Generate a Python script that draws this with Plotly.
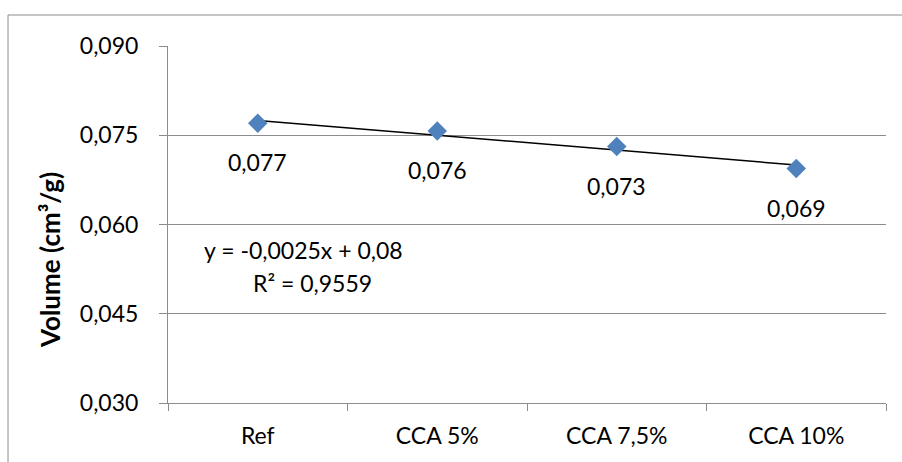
import plotly.graph_objects as go

# Mixtures and measured specific volume (cm³/g)
categories = ["Ref", "CCA 5%", "CCA 7,5%", "CCA 10%"]
volume = [0.0770, 0.0757, 0.0731, 0.0694]

# Linear trend line (x = 1..4 over the mixtures)
trend_slope = -0.0025
trend_intercept = 0.08
trend_r2 = 0.9559

y_ticks = [0.030, 0.045, 0.060, 0.075, 0.090]

FONT = "Lato"
GRID = "#8c8c8c"


def fmt_dec(v, nd):
    return f"{v:.{nd}f}".replace(".", ",")


x_idx = [1, len(categories)]
trend_y = [trend_slope * i + trend_intercept for i in x_idx]

fig = go.Figure()

fig.add_trace(go.Scatter(
    x=[categories[0], categories[-1]], y=trend_y,
    mode="lines", line=dict(color="black", width=1.5),
    hoverinfo="skip", showlegend=False,
))

fig.add_trace(go.Scatter(
    x=categories, y=volume, mode="markers",
    marker=dict(symbol="diamond", size=15, color="#4f81bd",
                line=dict(width=0)),
    showlegend=False,
))

annotations = []
for c, v in zip(categories, volume):
    annotations.append(dict(
        x=c, y=v, xref="x", yref="y", text=fmt_dec(v, 3),
        showarrow=False, yshift=-39, xanchor="center", yanchor="middle",
        font=dict(family=FONT, size=23, color="black"),
    ))

slope_txt = f"{trend_slope:.4f}".replace(".", ",")
icpt_txt = f"{trend_intercept:g}".replace(".", ",")
annotations.append(dict(
    x=0.189, y=0.4286, xref="paper", yref="paper",
    xanchor="center", yanchor="middle",
    text=f"y = {slope_txt}x + {icpt_txt}", showarrow=False,
    font=dict(family=FONT, size=23, color="black"),
))
annotations.append(dict(
    x=0.2006, y=0.336, xref="paper", yref="paper",
    xanchor="center", yanchor="middle",
    text=f"R² = {fmt_dec(trend_r2, 4)}", showarrow=False,
    font=dict(family=FONT, size=23, color="black"),
))
annotations.append(dict(
    x=-0.1643, y=0.4006, xref="paper", yref="paper",
    xanchor="center", yanchor="middle",
    text="<b>Volume (cm³/g)</b>", textangle=-90, showarrow=False,
    font=dict(family=FONT, size=26, color="black"),
))

fig.update_layout(
    width=902, height=462,
    margin=dict(l=168, r=16, t=46, b=59),
    paper_bgcolor="white", plot_bgcolor="white",
    separators=",.",
    font=dict(family=FONT, size=23, color="black"),
    annotations=annotations,
    shapes=[dict(
        type="rect", xref="paper", yref="paper",
        x0=-0.2228, x1=1.1, y0=-0.35, y1=1.0868,
        line=dict(color=GRID, width=1), layer="below",
    )],
)

fig.update_xaxes(
    type="category", categoryorder="array", categoryarray=categories,
    range=[-0.5, len(categories) - 0.5],
    showline=True, linecolor=GRID, linewidth=1,
    showgrid=False, zeroline=False,
    ticks="outside", tickson="boundaries", ticklen=7, tickcolor=GRID,
    tickfont=dict(family=FONT, size=23, color="black"),
    ticklabelstandoff=12,
)

fig.update_yaxes(
    range=[y_ticks[0], y_ticks[-1]],
    tickvals=y_ticks, ticktext=[fmt_dec(t, 3) for t in y_ticks],
    showline=True, linecolor=GRID, linewidth=1,
    showgrid=True, gridcolor=GRID, gridwidth=1, zeroline=False,
    ticks="outside", ticklen=8, tickcolor=GRID,
    tickfont=dict(family=FONT, size=23, color="black"),
    ticklabelstandoff=16,
)

fig.write_html("out.html")
